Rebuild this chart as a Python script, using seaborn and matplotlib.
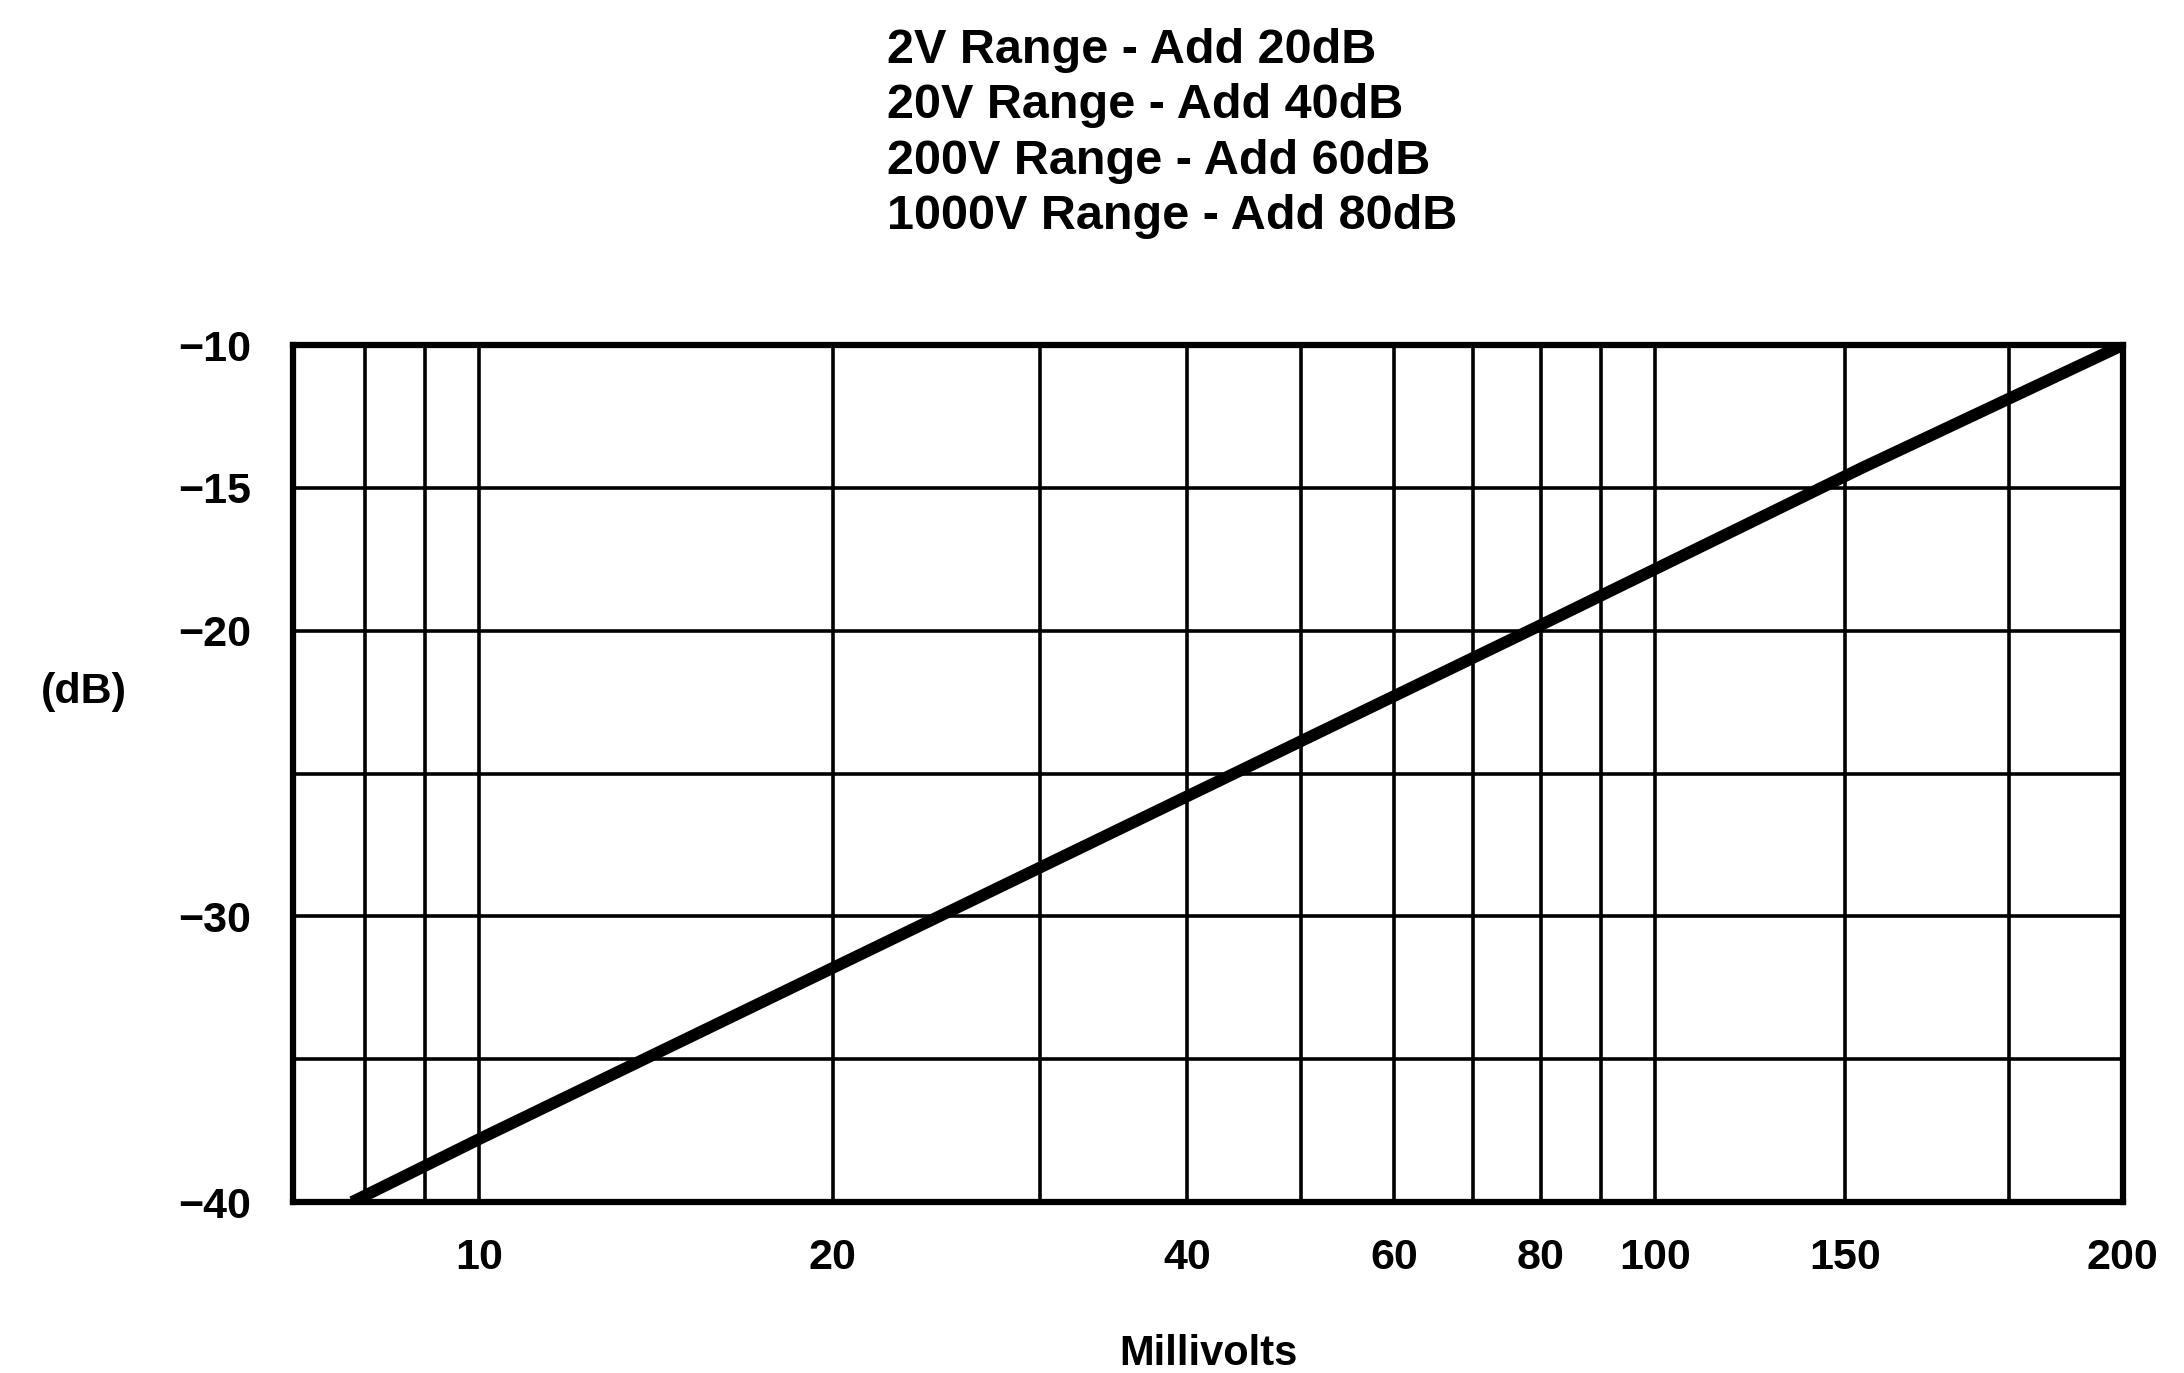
import matplotlib
matplotlib.use('Agg')
import matplotlib.pyplot as plt
import matplotlib.ticker as mticker
import pandas as pd
import seaborn as sns

# values (mV vs dB, log x axis)
millivolts = [7.8, 10, 20, 40, 80, 150, 250]
decibels = [-40, -37.8, -31.8, -25.8, -19.8, -14.3, -10]

grid_mv = [8, 9, 10, 20, 30, 40, 50, 60, 70, 80, 90, 100, 145, 200]
grid_db = [-15, -20, -25, -30, -35]

xtick_pos = [10, 20, 40, 60, 80, 100, 145, 250]
xtick_labels = ['10', '20', '40', '60', '80', '100', '150', '200']
ytick_pos = [-10, -15, -20, -30, -40]
ytick_labels = ['\u221210', '\u221215', '\u221220', '\u221230', '\u221240']

range_notes = ['2V Range - Add 20dB',
               '20V Range - Add 40dB',
               '200V Range - Add 60dB',
               '1000V Range - Add 80dB']

sns.set_style('white')
plt.rcParams['font.family'] = ['Liberation Sans', 'DejaVu Sans']
plt.rcParams['font.weight'] = 'bold'
plt.rcParams['text.color'] = 'black'
plt.rcParams['axes.labelcolor'] = 'black'
plt.rcParams['xtick.color'] = 'black'
plt.rcParams['ytick.color'] = 'black'

df = pd.DataFrame({'mv': millivolts, 'db': decibels})

fig = plt.figure(figsize=(21.84, 13.73), dpi=100)
ax = fig.add_axes([0.1342, 0.1245, 0.8378, 0.6242])

sns.lineplot(data=df, x='mv', y='db', color='black', linewidth=8.5, ax=ax,
             legend=False, solid_capstyle='butt')

ax.set_xscale('log')
ax.set_xlim(6.95, 250)
ax.set_ylim(-40, -10)

# grid lines on minor ticks, labels on major ticks
ax.xaxis.remove_overlapping_locs = False
ax.yaxis.remove_overlapping_locs = False
ax.xaxis.set_minor_locator(mticker.FixedLocator(grid_mv))
ax.xaxis.set_minor_formatter(mticker.NullFormatter())
ax.yaxis.set_minor_locator(mticker.FixedLocator(grid_db))
ax.set_xticks(xtick_pos)
ax.set_xticklabels(xtick_labels)
ax.set_yticks(ytick_pos)
ax.set_yticklabels(ytick_labels)
ax.grid(False)
ax.grid(which='minor', color='black', linewidth=2.6)
ax.tick_params(which='both', length=0)
ax.tick_params(axis='x', labelsize=31, pad=26)
ax.tick_params(axis='y', labelsize=31, pad=30)

for s in ax.spines.values():
    s.set_visible(True)
    s.set_color('black')
    s.set_linewidth(4.5)

ax.set_xlabel('Millivolts', fontsize=30, fontweight='bold', labelpad=40)
ax.set_ylabel('')
fig.text(0.0385, 0.496, '(dB)', fontsize=31, fontweight='bold',
         ha='center', va='center')

for i, note in enumerate(range_notes):
    fig.text(0.406, 0.9635 - i * 0.0405, note, fontsize=35,
             fontweight='bold', ha='left', va='center')

fig.savefig('out.png', dpi=100, facecolor='white')
